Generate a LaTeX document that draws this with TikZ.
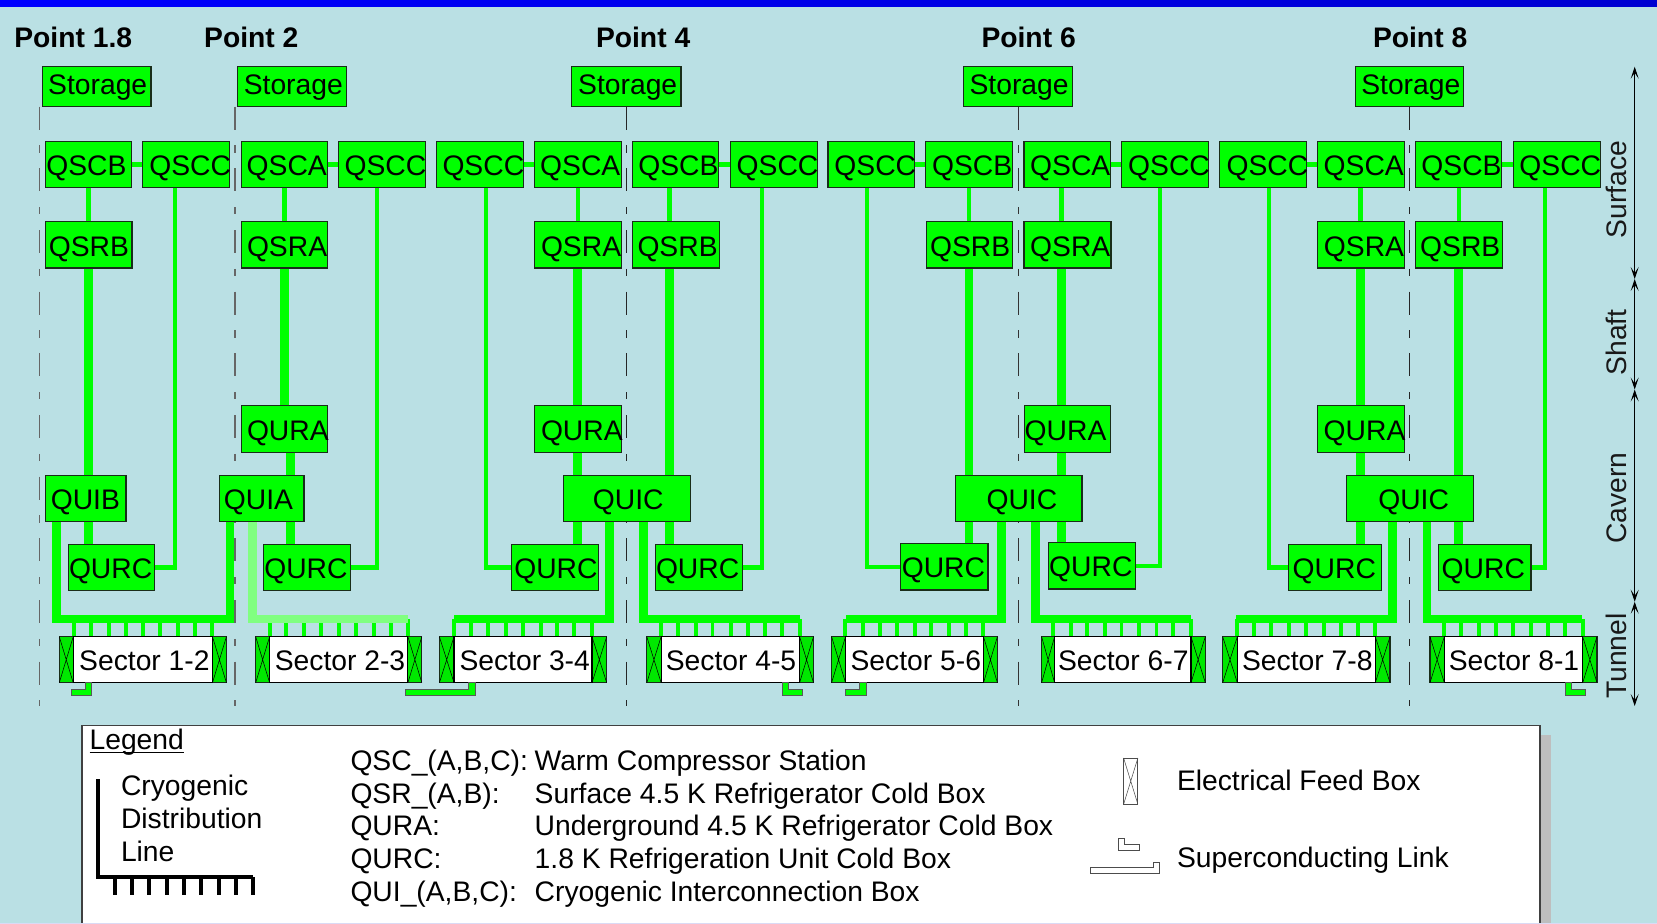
\documentclass[tikz,border=0pt]{standalone}
\usepackage{fontspec}
\setmainfont{Liberation Sans}
\usetikzlibrary{backgrounds,arrows.meta}
\definecolor{skyb}{RGB}{186,224,228}
\definecolor{pipe}{RGB}{0,255,0}
\definecolor{pipelight}{RGB}{128,255,128}
\definecolor{efbgreen}{RGB}{0,232,0}
\definecolor{shadowgrey}{RGB}{190,190,190}
\definecolor{edge}{RGB}{25,45,25}
\definecolor{lavender}{RGB}{218,218,245}
\newcommand\bigfont{\fontsize{21.2}{25}\selectfont}
\tikzset{
  greenbox/.style={draw=edge,line width=.8pt,fill=pipe,inner sep=0pt,outer sep=0pt,anchor=north west,font=\bigfont},
  sectorbox/.style={draw=black,line width=.8pt,fill=white,inner sep=0pt,outer sep=0pt,anchor=north west,font=\bigfont},
  efbbox/.style={draw=edge,line width=.8pt,inner sep=0pt,outer sep=0pt,anchor=north west},
  efbx/.style={draw=black,line width=.4pt},
  fat/.style={draw=pipe,line width=6.5pt,miter limit=10},
  medium/.style={draw=pipe,line width=3.4pt},
  thin pipe/.style={draw=pipe,line width=3.1pt,miter limit=10},
  link/.style={draw=pipe,line width=3.5pt},
  tooth/.style={draw=pipe,line width=2.9pt},
  sclink/.style={draw=black!65,line width=.7pt,fill=pipe},
  legendlink/.style={draw=black!70,line width=.6pt,fill=white},
  axis/.style={draw=black,line width=.6pt,{Stealth[length=9pt,width=6pt,inset=4.5pt]}-{Stealth[length=9pt,width=6pt,inset=4.5pt]}},
  dashline/.style={dash pattern=on 17.25pt off 11.8pt on 5.5pt off 11.7pt},
  title/.style={anchor=base west,inner sep=0pt,outer sep=0pt,font=\bigfont\bfseries},
  legtext/.style={anchor=base west,inner sep=0pt,outer sep=0pt,font=\bigfont},
  zone/.style={anchor=base,rotate=90,inner sep=0pt,outer sep=0pt,font=\bigfont,text=black!90},
}
\newcommand\bx[8]{%
  \pgfmathsetmacro\bxw{(#4-#2)*.75}\pgfmathsetmacro\bxH{(#7+.8-#3)*.75}%
  \pgfmathsetmacro\bxD{(#5-#7-.8)*.75}\pgfmathsetmacro\bxd{(#6-#2)*.75}%
  \node[greenbox,text height=\bxH pt,text depth=\bxD pt] (#1) at (#2,#3) {\makebox[\bxw pt][l]{\hspace*{\bxd pt}#8}};}
\newcommand\efb[3]{%
  \pgfmathsetmacro\bxw{(#3-#2)*.75}%
  \node[efbbox,fill=efbgreen,minimum width=\bxw pt,minimum height=34.5pt] (#1) at (#2,636.7) {};
  \draw[efbx] (#1.north west)--(#1.south east) (#1.north east)--(#1.south west);}
% name, x0 (left feed box), x1, x2, x3, text left, text
\newcommand\sect[7]{%
  \efb{#1l}{#2}{#3}\efb{#1r}{#4}{#5}%
  \pgfmathsetmacro\bxw{(#4-#3)*.75}\pgfmathsetmacro\bxd{(#6-1.2-#3)*.75}%
  \node[sectorbox,text height=25.05pt,text depth=9.45pt] (#1) at (#3,636.7) {\makebox[\bxw pt][l]{\hspace*{\bxd pt}#7}};}
% x, from, to
\newcommand\vl[4]{\draw[#1] (#2,0 |- #3) -- (#2,0 |- #4);}
\newcommand\teeth[2]{\foreach \tx in {#2} {\draw[tooth] (\tx,619) -- (\tx,0 |- #1.north);}}
\begin{document}
\begin{tikzpicture}[x=.75pt,y=-.75pt]
\useasboundingbox (0,0) rectangle (1657,924);
% ---- boxes
\bx{st1}{42.2}{66.7}{151}{106.7}{48.2}{93.3}{Storage}
\bx{st2}{237.5}{66.7}{346.8}{106.7}{243.8}{93.3}{Storage}
\bx{st4}{571.4}{66.7}{681}{106.7}{578.2}{93.3}{Storage}
\bx{st6}{963.3}{66.7}{1072.4}{106.7}{969.6}{93.3}{Storage}
\bx{st8}{1355.2}{66.7}{1463.6}{106.7}{1361.3}{93.3}{Storage}
% QSC row
\bx{qa1}{45.4}{141.3}{131.8}{187.3}{46.4}{174.5}{QSCB}
\bx{qc1}{142.9}{141.3}{229.6}{187.3}{149.3}{174.5}{QSCC}
\bx{qa2}{241.4}{141.3}{327.5}{187.3}{246.7}{174.5}{QSCA}
\bx{qc2}{338.2}{141.3}{425.4}{187.3}{344.6}{174.5}{QSCC}
\bx{qc3}{436.4}{141.3}{523.6}{187.3}{442.5}{174.5}{QSCC}
\bx{qa3}{534.3}{141.3}{621.7}{187.3}{540.2}{174.5}{QSCA}
\bx{qa4}{632.3}{141.3}{718.5}{187.3}{638.3}{174.5}{QSCB}
\bx{qc4}{730.4}{141.3}{817.8}{187.3}{736.7}{174.5}{QSCC}
\bx{qc5}{828}{141.3}{914.7}{187.3}{834.4}{174.5}{QSCC}
\bx{qa5}{925.3}{141.3}{1012.7}{187.3}{932}{174.5}{QSCB}
\bx{qa6}{1024}{141.3}{1110.6}{187.3}{1030.2}{174.5}{QSCA}
\bx{qc6}{1121.6}{141.3}{1208.9}{187.3}{1128.2}{174.5}{QSCC}
\bx{qc7}{1219.5}{141.3}{1306.4}{187.3}{1226.5}{174.5}{QSCC}
\bx{qa7}{1317.4}{141.3}{1404.7}{187.3}{1323.7}{174.5}{QSCA}
\bx{qa8}{1415.3}{141.3}{1501.8}{187.3}{1421.4}{174.5}{QSCB}
\bx{qc8}{1513.6}{141.3}{1600.5}{187.3}{1519.4}{174.5}{QSCC}
% QSR row
\bx{r1}{45.4}{221.3}{132}{268}{48.9}{255.5}{QSRB}
\bx{r2}{241.4}{221.3}{327.5}{268}{247}{255.5}{QSRA}
\bx{r3}{534.3}{221.3}{621.7}{268}{541}{255.5}{QSRA}
\bx{r4}{632.3}{221.3}{719.3}{268}{637.5}{255.5}{QSRB}
\bx{r5}{926.5}{221.3}{1012.7}{268}{930}{255.5}{QSRB}
\bx{r6}{1024}{221.3}{1111}{268}{1030.2}{255.5}{QSRA}
\bx{r7}{1317.4}{221.3}{1404.7}{268}{1323.9}{255.5}{QSRA}
\bx{r8}{1415.3}{221.3}{1502.6}{268}{1420.2}{255.5}{QSRB}
% QURA row
\bx{u2}{241.4}{405.3}{327.5}{452.3}{247}{439.5}{QURA}
\bx{u3}{534.3}{405.3}{621.7}{452.3}{541}{439.5}{QURA}
\bx{u6}{1024.3}{405.3}{1110.6}{452.3}{1024.7}{439.5}{QURA}
\bx{u7}{1317.7}{405.3}{1404.3}{452.3}{1323.7}{439.5}{QURA}
% QUI row
\bx{ib}{45.4}{475.3}{126}{521.7}{50.8}{508.5}{QUIB}
\bx{ia}{219.6}{475.3}{304}{521.7}{223.9}{508.5}{QUIA}
\bx{ic4}{563.5}{475.3}{690.6}{521.7}{592.9}{508.5}{QUIC}
\bx{ic6}{955.3}{475.3}{1082}{521.7}{986.5}{508.5}{QUIC}
\bx{ic8}{1346.3}{475.3}{1473.7}{521.7}{1378.3}{508.5}{QUIC}
% QURC row
\bx{c1}{68.2}{544.3}{154.6}{590.7}{69}{577.7}{QURC}
\bx{c2}{263.2}{544.3}{350.7}{590.7}{264.3}{577.7}{QURC}
\bx{c3}{511.8}{544.3}{598.4}{590.7}{514.3}{577.7}{QURC}
\bx{c4}{655.2}{544.3}{742.3}{590.7}{656}{577.7}{QURC}
\bx{c5}{900.6}{543.3}{988}{590}{901.8}{576.7}{QURC}
\bx{c6}{1048.3}{542.3}{1135.4}{589}{1049.2}{576}{QURC}
\bx{c7}{1288.7}{544.3}{1381.7}{590.7}{1292.7}{577.7}{QURC}
\bx{c8}{1438.3}{544.3}{1531}{590.7}{1441.7}{577.7}{QURC}
% sectors
\sect{s12}{59.3}{73.2}{212.5}{226.4}{80.4}{Sector 1-2}
\sect{s23}{255.7}{269.6}{407.9}{421.8}{276}{Sector 2-3}
\sect{s34}{439.4}{454}{592}{606.7}{460.7}{Sector 3-4}
\sect{s45}{646.8}{661.1}{799.6}{813.5}{667}{Sector 4-5}
\sect{s56}{831.6}{845.5}{983.5}{997.4}{851.8}{Sector 5-6}
\sect{s67}{1041.6}{1054.6}{1191}{1205.3}{1059.3}{Sector 6-7}
\sect{s78}{1222.7}{1237.3}{1375.3}{1390}{1243.3}{Sector 7-8}
\sect{s81}{1430}{1444.3}{1582.7}{1597}{1450}{Sector 8-1}
% titles
\node[title] (p18) at (14.3,47.5) {Point 1.8};
\node[title] (p2) at (204.2,47.5) {Point 2};
\node[title] (p4) at (596,47.5) {Point 4};
\node[title] (p6) at (981.5,47.5) {Point 6};
\node[title] (p8) at (1373,47.5) {Point 8};
% zones
\coordinate (z0) at (1634.7,66.7);
\coordinate (z1) at (1634.7,279);
\coordinate (z2) at (1634.7,389.5);
\coordinate (z3) at (1634.7,601.7);
\coordinate (z4) at (1634.7,706);
\draw[axis] (z0) -- (z1);
\draw[axis] (z1) -- (z2);
\draw[axis] (z2) -- (z3);
\draw[axis] (z3) -- (z4);
\node[zone] (surface) at (1626,189.5) {Surface};
\node[zone] (shaft) at (1626,342.5) {Shaft};
\node[zone] (cavern) at (1626,498) {Cavern};
\node[zone] (tunnel) at (1626,656) {Tunnel};
% ---- links under the sectors
\begin{scope}[every path/.style={sclink}]
\path (s12.south -| 85.7,0) -- (91.4,682.7) -- (91.4,695) -- (71.4,695) -- (71.4,689.3) -- (85.7,689.3) -- cycle;
\path (s34.south -| 468.6,0) -- (475,682.7) -- (475,695) -- (405.4,695) -- (405.4,689) -- (468.6,689) -- cycle;
\path (s45.south -| 782.3,0) -- (788.2,682.7) -- (788.2,689) -- (802.5,689) -- (802.5,695) -- (782.3,695) -- cycle;
\path (s56.south -| 859.8,0) -- (866,682.7) -- (866,695) -- (845.5,695) -- (845.5,689) -- (859.8,689) -- cycle;
\path (s81.south -| 1565.3,0) -- (1571.3,682.7) -- (1571.3,689) -- (1585.7,689) -- (1585.7,695) -- (1565.3,695) -- cycle;
\end{scope}
% ---- legend
\node[anchor=north west,inner sep=0pt,outer sep=0pt,draw=black!75,line width=.8pt,fill=white,minimum width=1093.5pt,minimum height=160pt] (legendbox) at (82,725.3) {};
\node[legtext] (lg) at (89.6,749.6) {Legend};
\draw[line width=.8pt] ([yshift=-2.2pt]lg.base west) -- ([yshift=-2.2pt]lg.base east);
\node[legtext] (l1) at (121,795) {Cryogenic};
\node[legtext] (l2) at (121,828.7) {Distribution};
\node[legtext] (l3) at (121,861) {Line};
\coordinate (legtop) at (98.2,779);
\coordinate (legcorner) at (98.2,877);
\coordinate (legend) at (252.9,877);
\draw[line width=3.2pt,miter limit=10] (legtop) -- (legcorner) -- (legend);
\foreach \tx in {115,132.1,149.3,166.8,183.9,201.1,218.6,236,252.9} {\draw[line width=3.1pt] (\tx,0 |- legend) -- (\tx,894.7);}
\node[legtext] (k1) at (350.5,770) {QSC\_(A,B,C):};
\node[legtext] (v1) at (534.7,770) {Warm Compressor Station};
\node[legtext] (k2) at (350.5,803) {QSR\_(A,B):};
\node[legtext] (v2) at (534.7,803) {Surface 4.5 K Refrigerator Cold Box};
\node[legtext] (k3) at (350.5,835) {QURA:};
\node[legtext] (v3) at (534.7,835) {Underground 4.5 K Refrigerator Cold Box};
\node[legtext] (k4) at (350.5,868) {QURC:};
\node[legtext] (v4) at (534.7,868) {1.8 K Refrigeration Unit Cold Box};
\node[legtext] (k5) at (350.5,901) {QUI\_(A,B,C):};
\node[legtext] (v5) at (534.7,901) {Cryogenic Interconnection Box};
\node[efbbox,draw=black!70,line width=.6pt,fill=white,minimum width=10.7pt,minimum height=34.7pt] (legefb) at (1123.6,758) {};
\draw[draw=black!70,line width=.4pt] (legefb.north west)--(legefb.south east) (legefb.north east)--(legefb.south west);
\node[legtext] (e1) at (1177,790.4) {Electrical Feed Box};
\node[legtext] (e2) at (1177,867.2) {Superconducting Link};
\draw[legendlink] (1118.5,838.7) -- (1124.3,838.7) -- (1124.3,844.5) -- (1139.8,844.5) -- (1139.8,850.7) -- (1118.5,850.7) -- cycle;
\draw[legendlink] (1153.4,862.3) -- (1159.6,862.3) -- (1159.6,873.7) -- (1090.3,873.7) -- (1090.3,867.7) -- (1153.4,867.7) -- cycle;
% ---- everything behind the boxes
\begin{pgfonlayer}{background}
\fill[skyb] (0,0) rectangle (1657,924);
\shade[left color=blue,right color=blue!82!black] (0,0) rectangle (1657,7);
\fill[shadowgrey] (1539,735) rectangle (1551.3,924);
\coordinate (d1t) at (39.3,106.7); \coordinate (d1b) at (39.3,706);
\coordinate (d2b) at (235,706); \coordinate (d2t) at (235,106.7);
\draw[dashline,draw=black!60,line width=.9pt] (d1t) -- (d1b);
\draw[dashline,draw=black!60,line width=1.5pt] (d2t) -- (d2b);
\draw[dashline,draw=black!85,line width=.8pt] (626.4,0 |- st4.south) -- (626.4,706);
\draw[dashline,draw=black!80,line width=.8pt] (1018.3,0 |- st6.south) -- (1018.3,706);
\draw[dashline,draw=black!85,line width=.8pt] (1409.6,0 |- st8.south) -- (1409.6,706);
% QSC pairs
\draw[link] (qa1) -- (qc1); \draw[link] (qa2) -- (qc2); \draw[link] (qc3) -- (qa3);
\draw[link] (qa4) -- (qc4); \draw[link] (qc5) -- (qa5); \draw[link] (qa6) -- (qc6);
\draw[link] (qc7) -- (qa7); \draw[link] (qa8) -- (qc8);
% QSC to QSR
\vl{medium}{88.6}{qa1.south}{r1.north}
\vl{medium}{284.3}{qa2.south}{r2.north}
\vl{medium}{578.2}{qa3.south}{r3.north}
\vl{medium}{669.5}{qa4.south}{r4.north}
\vl{medium}{968.8}{qa5.south}{r5.north}
\vl{medium}{1061.4}{qa6.south}{r6.north}
\vl{medium}{1360.4}{qa7.south}{r7.north}
\vl{medium}{1458.8}{qa8.south}{r8.north}
% QSR downwards
\vl{fat}{88.4}{r1.south}{ib.north}
\vl{fat}{284.3}{r2.south}{u2.north}
\vl{fat}{577.4}{r3.south}{u3.north}
\vl{fat}{669.5}{r4.south}{ic4.north}
\vl{fat}{969}{r5.south}{ic6.north}
\vl{fat}{1061.4}{r6.south}{u6.north}
\vl{fat}{1360.4}{r7.south}{u7.north}
\vl{fat}{1458.3}{r8.south}{ic8.north}
% QURA to QUI, QUI to QURC
\vl{fat}{290.7}{u2.south}{ia.north}
\vl{fat}{577.4}{u3.south}{ic4.north}
\vl{fat}{1061.4}{u6.south}{ic6.north}
\vl{fat}{1360.3}{u7.south}{ic8.north}
\vl{fat}{88.6}{ib.south}{c1.north}
\vl{fat}{290.7}{ia.south}{c2.north}
\vl{fat}{577.4}{ic4.south}{c3.north}
\vl{fat}{669.5}{ic4.south}{c4.north}
\vl{fat}{969}{ic6.south}{c5.north}
\vl{fat}{1061.4}{ic6.south}{c6.north}
\vl{fat}{1360.3}{ic8.south}{c7.north}
\vl{fat}{1458.7}{ic8.south}{c8.north}
% QSCC to QURC
\draw[thin pipe] (175,0 |- qc1.south) |- (c1.east);
\draw[thin pipe] (377,0 |- qc2.south) |- (c2.east);
\draw[thin pipe] (485.7,0 |- qc3.south) |- (c3.west);
\draw[thin pipe] (762,0 |- qc4.south) |- (c4.east);
\draw[thin pipe] (867.4,0 |- qc5.south) |- (c5.west);
\draw[thin pipe] (1160,0 |- qc6.south) |- (c6.east);
\draw[thin pipe] (1268.6,0 |- qc7.south) |- (c7.west);
\draw[thin pipe] (1545,0 |- qc8.south) |- (c8.east);
% distribution lines
\teeth{s12}{74.3,90.7,108.6,125.7,142.9,160.4,177.9,194.6,211.8}
\teeth{s23}{270,286.4,303.9,321.4,339.3,356,373.6,391,408.2}
\teeth{s34}{454,471,488.3,506,523.3,540.7,557.3,574.3,591.7}
\teeth{s45}{661.1,678.4,696,712.5,730.6,747.8,764.6,781.9,800.4}
\teeth{s56}{845,862.7,880.4,897.2,914.9,931.3,949.4,966.2,983.1}
\teeth{s67}{1053,1070.6,1087,1105,1121.5,1139.2,1156.5,1173.3,1191}
\teeth{s78}{1237,1254,1271.3,1289,1306,1323.7,1341,1358,1375.3}
\teeth{s81}{1444,1461.3,1478.7,1496,1513.3,1530.7,1547.7,1565,1583}
\draw[fat] (56.8,0 |- ib.south) -- (56.8,619) -- (230,619) -- (230,0 |- ia.south);
\draw[fat,draw=pipelight] (252.5,0 |- ia.south) -- (252.5,619) -- (408,619);
\draw[fat] (609.8,0 |- ic4.south) -- (609.8,619) -- (454,619);
\draw[fat] (643.4,0 |- ic4.south) -- (643.4,619) -- (799.8,619);
\draw[fat] (1001.2,0 |- ic6.south) -- (1001.2,619) -- (845.5,619);
\draw[fat] (1035.7,0 |- ic6.south) -- (1035.7,619) -- (1191,619);
\draw[fat] (1392.3,0 |- ic8.south) -- (1392.3,619) -- (1236,619);
\draw[fat] (1427,0 |- ic8.south) -- (1427,619) -- (1582.3,619);
\end{pgfonlayer}
\fill[lavender] (0,922.6) rectangle (1657,924);
\end{tikzpicture}
\end{document}
